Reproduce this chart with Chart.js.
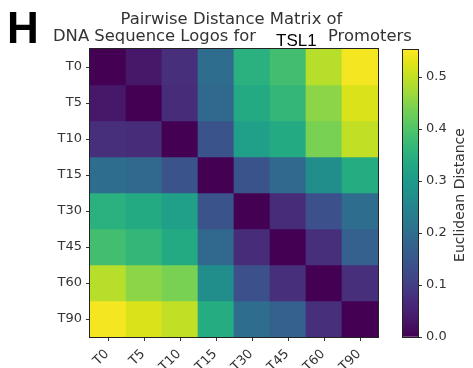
<!DOCTYPE html>
<html>
<head>
<meta charset="utf-8">
<script src="https://cdn.jsdelivr.net/npm/chart.js@4/dist/chart.umd.min.js"></script>
<style>
  html, body { margin: 0; padding: 0; background: #fff; }
  #wrap { position: relative; width: 473px; height: 368px; overflow: hidden; }
  #heat { position: absolute; left: 0; top: 0; }
  #cbar { position: absolute; left: 395px; top: 0; }
</style>
</head>
<body>
<div id="wrap">
  <canvas id="heat" width="473" height="368"></canvas>
  <canvas id="cbar" width="78" height="368"></canvas>
</div>
<script>
// Time points (rows and columns of the distance matrix)
const timepoints = ['T0', 'T5', 'T10', 'T15', 'T30', 'T45', 'T60', 'T90'];

// Euclidean distances between sequence logos, one row per time point
const dT0  = [0.000, 0.035, 0.075, 0.200, 0.350, 0.385, 0.490, 0.545];
const dT5  = [0.035, 0.000, 0.070, 0.190, 0.335, 0.365, 0.455, 0.520];
const dT10 = [0.075, 0.070, 0.000, 0.140, 0.315, 0.335, 0.440, 0.500];
const dT15 = [0.200, 0.190, 0.140, 0.000, 0.140, 0.190, 0.270, 0.340];
const dT30 = [0.350, 0.335, 0.315, 0.140, 0.000, 0.070, 0.135, 0.200];
const dT45 = [0.385, 0.365, 0.335, 0.190, 0.070, 0.000, 0.075, 0.170];
const dT60 = [0.490, 0.455, 0.440, 0.270, 0.135, 0.075, 0.000, 0.075];
const dT90 = [0.545, 0.520, 0.500, 0.340, 0.200, 0.170, 0.075, 0.000];
const distances = [dT0, dT5, dT10, dT15, dT30, dT45, dT60, dT90];

// Colour scale range and colorbar ticks
const vmin = 0;
const vmax = 0.552;
const colorbarTicks = [0.0, 0.1, 0.2, 0.3, 0.4, 0.5];

// Viridis colormap stops
const VIRIDIS = ['#440154','#471365','#482475','#46337f','#414487','#3b528b','#355f8d','#306a8e','#2a788e',
                 '#25838e','#21918c','#1e9b8a','#22a884','#2fb47c','#44bf70','#5ec962','#7ad151','#9fda3a',
                 '#bddf26','#dfe318','#fde725'];
function hexRgb(h) { return [1, 3, 5].map(i => parseInt(h.slice(i, i + 2), 16)); }
const VIR_RGB = VIRIDIS.map(hexRgb);
function viridis(t) {
  t = Math.max(0, Math.min(1, t));
  const p = t * (VIR_RGB.length - 1);
  const i = Math.min(Math.floor(p), VIR_RGB.length - 2);
  const f = p - i;
  const a = VIR_RGB[i], b = VIR_RGB[i + 1];
  const c = a.map((v, k) => Math.round(v + (b[k] - v) * f));
  return `rgb(${c[0]},${c[1]},${c[2]})`;
}
const norm = v => (v - vmin) / (vmax - vmin);

const TICK_FONT = { family: 'DejaVu Sans', size: 13 };
const TEXT_COLOR = '#333333';

// Thin frame around the plotting area
const framePlugin = {
  id: 'frame',
  afterDatasetsDraw(chart) {
    const { ctx, chartArea: a } = chart;
    ctx.save();
    ctx.strokeStyle = '#222';
    ctx.lineWidth = 1;
    ctx.strokeRect(a.left - 0.5, a.top - 0.5, a.right - a.left + 1, a.bottom - a.top + 1);
    ctx.restore();
  }
};

// Rotated column labels, right end at each tick
const xLabelPlugin = {
  id: 'xLabels',
  afterDraw(chart) {
    const { ctx, chartArea: a } = chart;
    const xs = chart.scales.x;
    ctx.save();
    ctx.fillStyle = TEXT_COLOR;
    ctx.font = `${TICK_FONT.size}px "${TICK_FONT.family}"`;
    ctx.textAlign = 'right';
    ctx.textBaseline = 'middle';
    timepoints.forEach((lab, i) => {
      const x = xs.getPixelForValue(i);
      ctx.save();
      ctx.translate(x - 1, a.bottom + 15);
      ctx.rotate(-Math.PI / 4);
      ctx.fillText(lab, 0, 0);
      ctx.restore();
    });
    ctx.restore();
  }
};

// Panel letter and title
const titlePlugin = {
  id: 'titles',
  afterDraw(chart) {
    const ctx = chart.ctx;
    ctx.save();
    ctx.textBaseline = 'alphabetic';
    ctx.fillStyle = '#000';
    ctx.font = 'bold 44px "Liberation Sans"';
    ctx.textAlign = 'left';
    ctx.fillText('H', 7, 43);

    ctx.fillStyle = TEXT_COLOR;
    ctx.font = '16.4px "DejaVu Sans"';
    ctx.textAlign = 'center';
    ctx.fillText('Pairwise Distance Matrix of', 231.5, 24);
    ctx.textAlign = 'left';
    ctx.fillText('DNA Sequence Logos for', 53, 40.5);
    ctx.fillText('Promoters', 328, 40.5);
    ctx.fillStyle = '#000';
    ctx.font = '17px "Liberation Sans"';
    ctx.fillText('TSL1', 276, 45.5);
    ctx.restore();
  }
};

new Chart(document.getElementById('heat'), {
  type: 'bar',
  data: {
    labels: timepoints,
    datasets: distances.map((row, r) => ({
      label: timepoints[r],
      data: row.map(() => 1),
      backgroundColor: row.map(v => viridis(norm(v))),
      borderWidth: 0,
      barPercentage: 1,
      categoryPercentage: 1
    }))
  },
  options: {
    responsive: false,
    animation: false,
    events: [],
    layout: { padding: { left: 0, top: 49, right: 95, bottom: 0 } },
    plugins: { legend: { display: false }, tooltip: { enabled: false } },
    scales: {
      x: {
        stacked: true,
        offset: true,
        grid: { display: true, offset: false, drawOnChartArea: false, drawTicks: true, tickLength: 4, color: '#333' },
        border: { display: false },
        ticks: { display: false },
        afterFit(s) { s.height = 31; }
      },
      y: {
        stacked: true,
        min: 0,
        max: timepoints.length,
        reverse: true,
        afterBuildTicks(s) { s.ticks = timepoints.map((_, i) => ({ value: i + 0.5 })); },
        ticks: {
          callback: (v, i) => timepoints[i],
          font: TICK_FONT,
          color: TEXT_COLOR,
          padding: 4,
          autoSkip: false
        },
        grid: { drawOnChartArea: false, drawTicks: true, tickLength: 4, color: '#333' },
        border: { display: false },
        afterFit(s) { s.width = 90; }
      }
    }
  },
  plugins: [framePlugin, xLabelPlugin, titlePlugin]
});

// Colorbar label, reading bottom to top
const cbarLabelPlugin = {
  id: 'cbarLabel',
  afterDraw(chart) {
    const ctx = chart.ctx;
    ctx.save();
    ctx.fillStyle = TEXT_COLOR;
    ctx.font = '14px "DejaVu Sans"';
    ctx.textAlign = 'center';
    ctx.textBaseline = 'middle';
    ctx.translate(65, 195);
    ctx.rotate(-Math.PI / 2);
    ctx.fillText('Euclidean Distance', 0, 0);
    ctx.restore();
  }
};

new Chart(document.getElementById('cbar'), {
  type: 'bar',
  data: {
    labels: ['scale'],
    datasets: [{
      data: [[vmin, vmax]],
      backgroundColor(c) {
        const { chart } = c;
        const a = chart.chartArea;
        if (!a) return VIRIDIS[0];
        const ys = chart.scales.y;
        const g = chart.ctx.createLinearGradient(0, ys.getPixelForValue(vmin), 0, ys.getPixelForValue(vmax));
        VIRIDIS.forEach((col, i) => g.addColorStop(i / (VIRIDIS.length - 1), col));
        return g;
      },
      borderWidth: 0,
      barPercentage: 1,
      categoryPercentage: 1
    }]
  },
  options: {
    responsive: false,
    animation: false,
    events: [],
    layout: { padding: { left: 8, top: 50, right: 0, bottom: 31 } },
    plugins: { legend: { display: false }, tooltip: { enabled: false } },
    scales: {
      x: { display: false },
      y: {
        position: 'right',
        min: vmin,
        max: vmax,
        afterBuildTicks(s) { s.ticks = colorbarTicks.map(v => ({ value: v })); },
        ticks: {
          callback: (v, i) => colorbarTicks[i].toFixed(1),
          font: TICK_FONT,
          color: TEXT_COLOR,
          padding: 4,
          autoSkip: false
        },
        grid: { drawOnChartArea: false, drawTicks: true, tickLength: 4, color: '#333' },
        border: { display: false },
        afterFit(s) { s.width = 55; }
      }
    }
  },
  plugins: [framePlugin, cbarLabelPlugin]
});
</script>
</body>
</html>
